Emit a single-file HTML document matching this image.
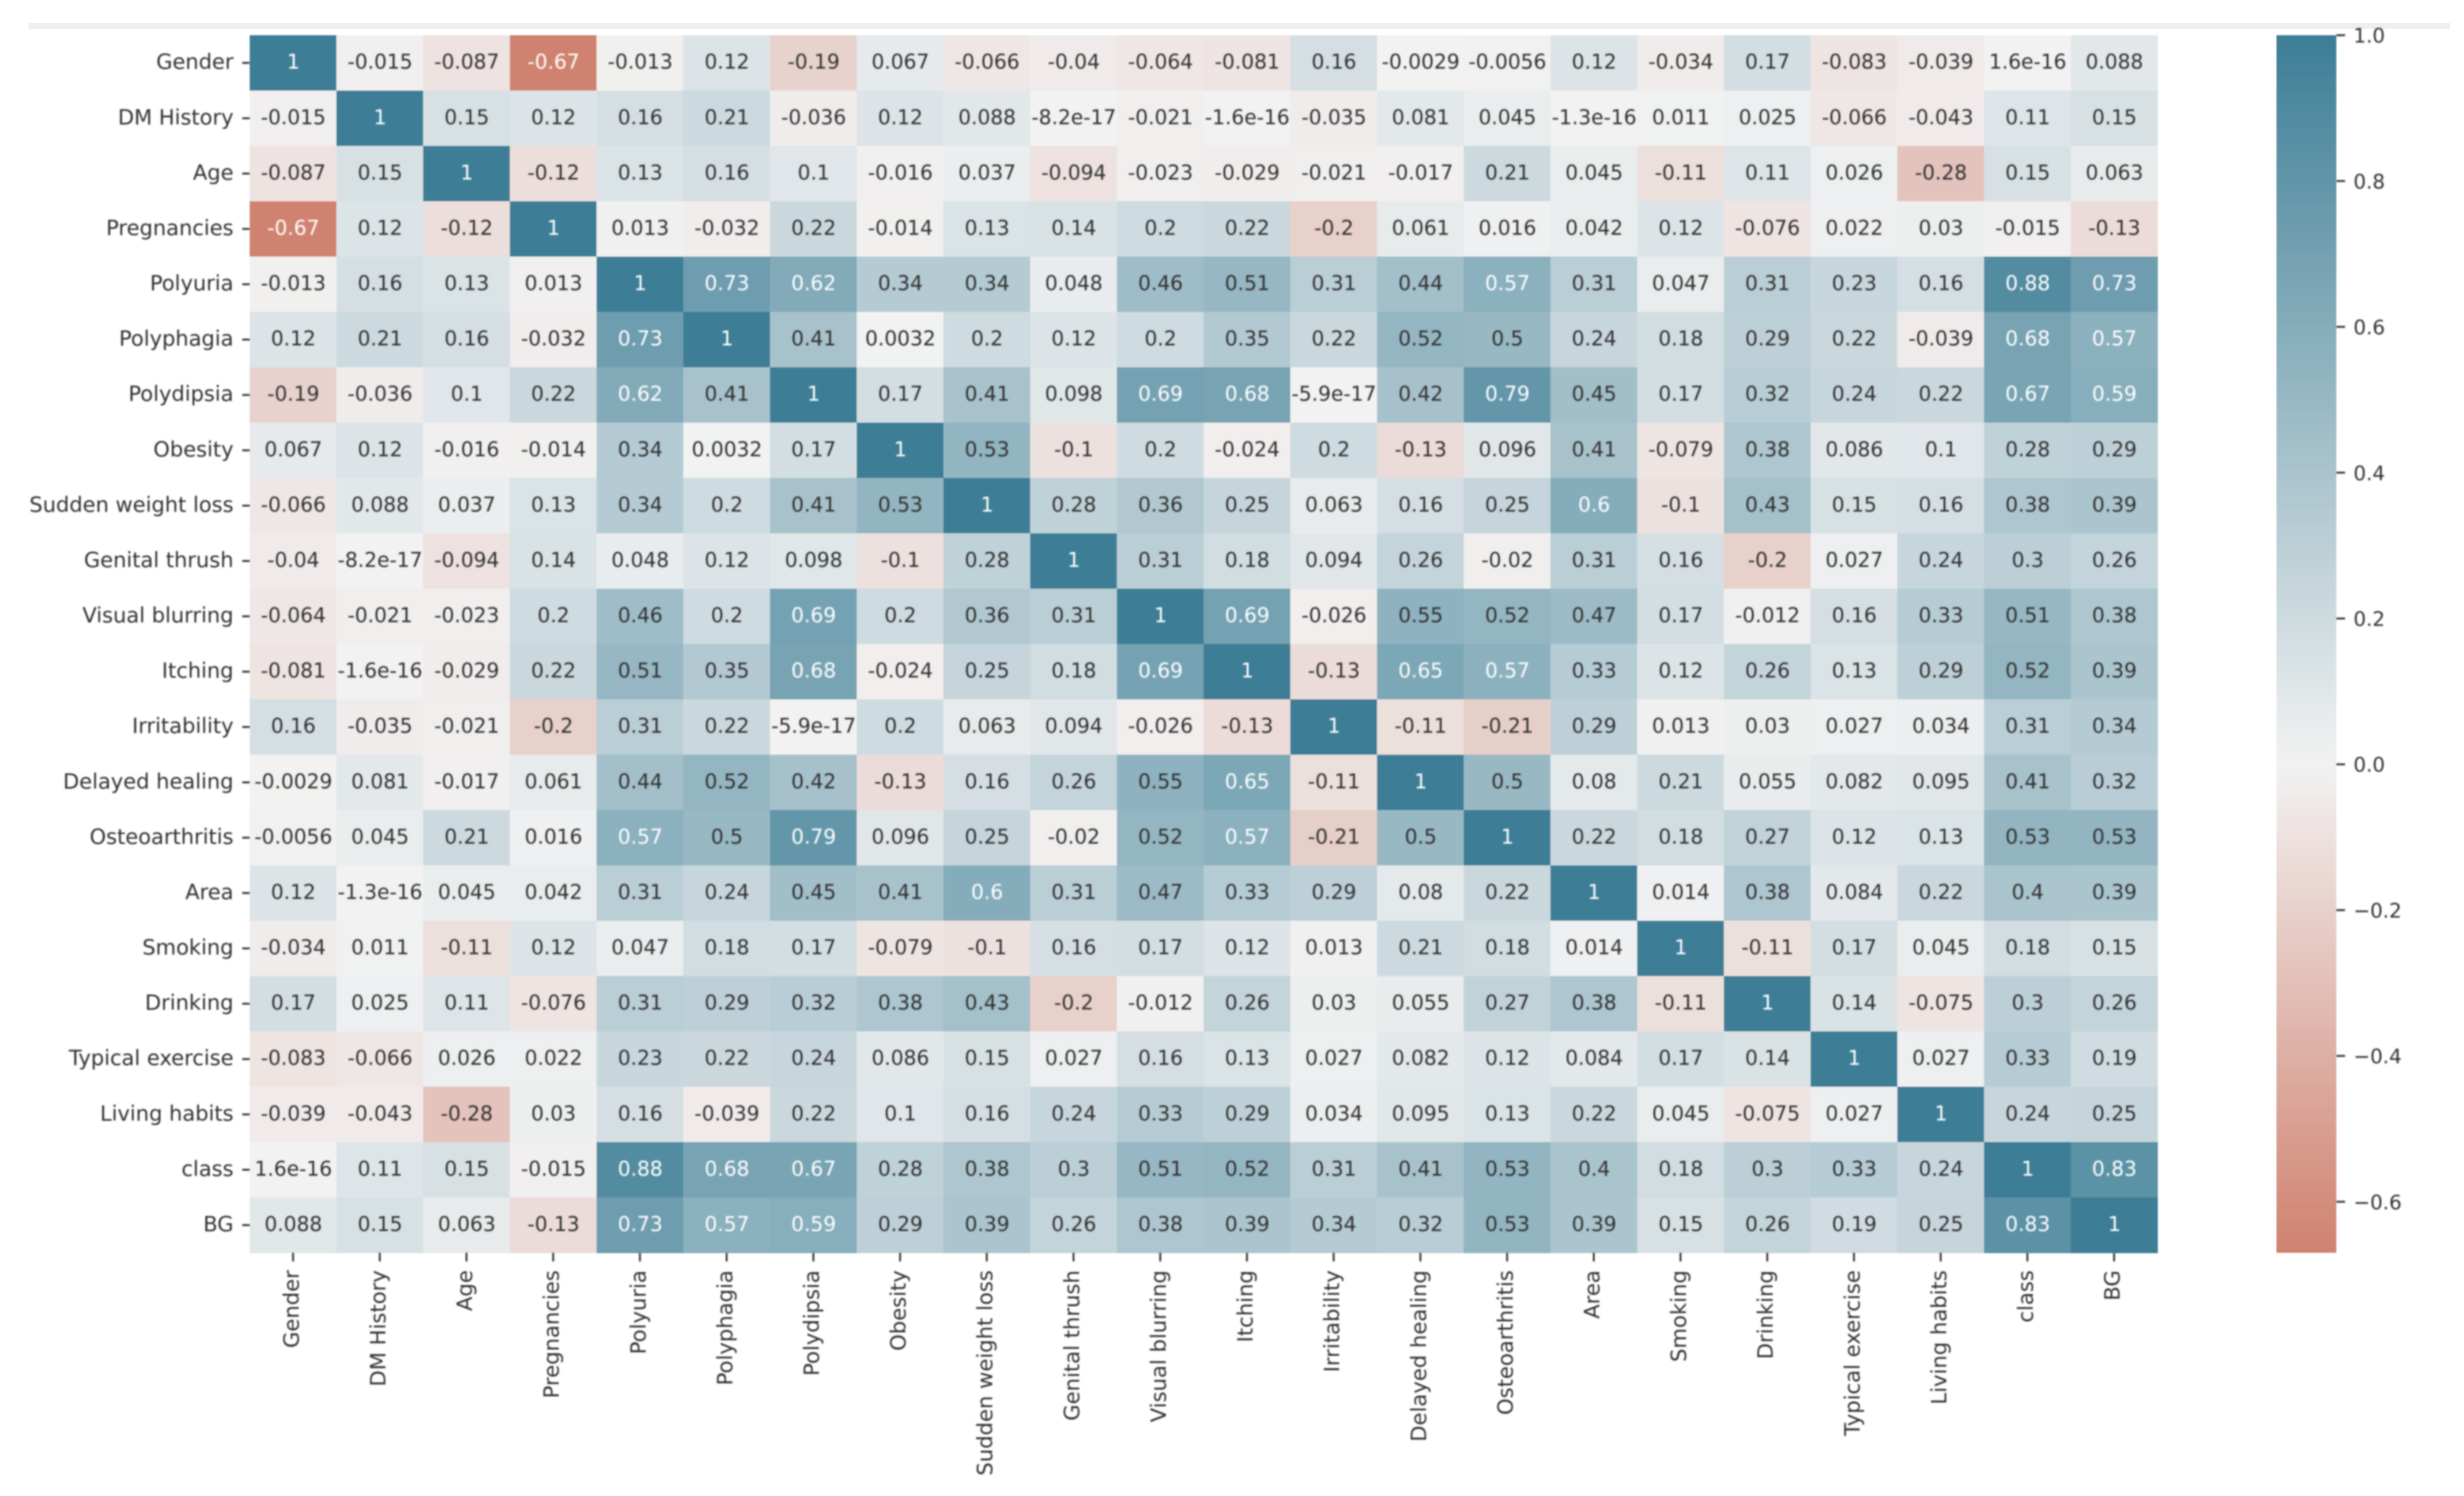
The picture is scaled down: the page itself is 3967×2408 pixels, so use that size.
<!DOCTYPE html>
<html>
<head>
<meta charset="utf-8">
<title>Correlation heatmap</title>
<style>
html,body{margin:0;padding:0;background:#fff;width:3967px;height:2408px;overflow:hidden}
svg{display:block}
text{font-family:"DejaVu Sans","Liberation Sans",sans-serif}
</style>
</head>
<body>
<svg id="chart" xmlns="http://www.w3.org/2000/svg" width="3967" height="2408" viewBox="0 0 3967 2408">
  <defs>
    <filter id="soft" x="-5%" y="-5%" width="110%" height="110%"><feGaussianBlur stdDeviation="1.4"/></filter>
    <filter id="softCell" x="-1%" y="-1%" width="102%" height="102%"><feGaussianBlur stdDeviation="1"/></filter>
    <linearGradient id="cbar-gradient" x1="0" y1="0" x2="0" y2="1"></linearGradient>
  </defs>
  <rect x="0" y="0" width="3967" height="2408" fill="#ffffff"/>
  <rect x="46" y="37" width="3898" height="10" fill="#eef0f0"/>
  <g id="cells" filter="url(#softCell)"></g>
  <g id="annots" filter="url(#soft)"></g>
  <g id="yaxis" filter="url(#soft)"></g>
  <g id="xaxis" filter="url(#soft)"></g>
  <g id="colorbar"></g>
</svg>
<script>
const categories = ["Gender","DM History","Age","Pregnancies","Polyuria","Polyphagia","Polydipsia","Obesity","Sudden weight loss","Genital thrush","Visual blurring","Itching","Irritability","Delayed healing","Osteoarthritis","Area","Smoking","Drinking","Typical exercise","Living habits","class","BG"];
const rowGender = [1,-0.015,-0.087,-0.67,-0.013,0.12,-0.19,0.067,-0.066,-0.04,-0.064,-0.081,0.16,-0.0029,-0.0056,0.12,-0.034,0.17,-0.083,-0.039,1.6e-16,0.088];
const rowDMHistory = [-0.015,1,0.15,0.12,0.16,0.21,-0.036,0.12,0.088,-8.2e-17,-0.021,-1.6e-16,-0.035,0.081,0.045,-1.3e-16,0.011,0.025,-0.066,-0.043,0.11,0.15];
const rowAge = [-0.087,0.15,1,-0.12,0.13,0.16,0.1,-0.016,0.037,-0.094,-0.023,-0.029,-0.021,-0.017,0.21,0.045,-0.11,0.11,0.026,-0.28,0.15,0.063];
const rowPregnancies = [-0.67,0.12,-0.12,1,0.013,-0.032,0.22,-0.014,0.13,0.14,0.2,0.22,-0.2,0.061,0.016,0.042,0.12,-0.076,0.022,0.03,-0.015,-0.13];
const rowPolyuria = [-0.013,0.16,0.13,0.013,1,0.73,0.62,0.34,0.34,0.048,0.46,0.51,0.31,0.44,0.57,0.31,0.047,0.31,0.23,0.16,0.88,0.73];
const rowPolyphagia = [0.12,0.21,0.16,-0.032,0.73,1,0.41,0.0032,0.2,0.12,0.2,0.35,0.22,0.52,0.5,0.24,0.18,0.29,0.22,-0.039,0.68,0.57];
const rowPolydipsia = [-0.19,-0.036,0.1,0.22,0.62,0.41,1,0.17,0.41,0.098,0.69,0.68,-5.9e-17,0.42,0.79,0.45,0.17,0.32,0.24,0.22,0.67,0.59];
const rowObesity = [0.067,0.12,-0.016,-0.014,0.34,0.0032,0.17,1,0.53,-0.1,0.2,-0.024,0.2,-0.13,0.096,0.41,-0.079,0.38,0.086,0.1,0.28,0.29];
const rowSuddenWeightLoss = [-0.066,0.088,0.037,0.13,0.34,0.2,0.41,0.53,1,0.28,0.36,0.25,0.063,0.16,0.25,0.6,-0.1,0.43,0.15,0.16,0.38,0.39];
const rowGenitalThrush = [-0.04,-8.2e-17,-0.094,0.14,0.048,0.12,0.098,-0.1,0.28,1,0.31,0.18,0.094,0.26,-0.02,0.31,0.16,-0.2,0.027,0.24,0.3,0.26];
const rowVisualBlurring = [-0.064,-0.021,-0.023,0.2,0.46,0.2,0.69,0.2,0.36,0.31,1,0.69,-0.026,0.55,0.52,0.47,0.17,-0.012,0.16,0.33,0.51,0.38];
const rowItching = [-0.081,-1.6e-16,-0.029,0.22,0.51,0.35,0.68,-0.024,0.25,0.18,0.69,1,-0.13,0.65,0.57,0.33,0.12,0.26,0.13,0.29,0.52,0.39];
const rowIrritability = [0.16,-0.035,-0.021,-0.2,0.31,0.22,-5.9e-17,0.2,0.063,0.094,-0.026,-0.13,1,-0.11,-0.21,0.29,0.013,0.03,0.027,0.034,0.31,0.34];
const rowDelayedHealing = [-0.0029,0.081,-0.017,0.061,0.44,0.52,0.42,-0.13,0.16,0.26,0.55,0.65,-0.11,1,0.5,0.08,0.21,0.055,0.082,0.095,0.41,0.32];
const rowOsteoarthritis = [-0.0056,0.045,0.21,0.016,0.57,0.5,0.79,0.096,0.25,-0.02,0.52,0.57,-0.21,0.5,1,0.22,0.18,0.27,0.12,0.13,0.53,0.53];
const rowArea = [0.12,-1.3e-16,0.045,0.042,0.31,0.24,0.45,0.41,0.6,0.31,0.47,0.33,0.29,0.08,0.22,1,0.014,0.38,0.084,0.22,0.4,0.39];
const rowSmoking = [-0.034,0.011,-0.11,0.12,0.047,0.18,0.17,-0.079,-0.1,0.16,0.17,0.12,0.013,0.21,0.18,0.014,1,-0.11,0.17,0.045,0.18,0.15];
const rowDrinking = [0.17,0.025,0.11,-0.076,0.31,0.29,0.32,0.38,0.43,-0.2,-0.012,0.26,0.03,0.055,0.27,0.38,-0.11,1,0.14,-0.075,0.3,0.26];
const rowTypicalExercise = [-0.083,-0.066,0.026,0.022,0.23,0.22,0.24,0.086,0.15,0.027,0.16,0.13,0.027,0.082,0.12,0.084,0.17,0.14,1,0.027,0.33,0.19];
const rowLivingHabits = [-0.039,-0.043,-0.28,0.03,0.16,-0.039,0.22,0.1,0.16,0.24,0.33,0.29,0.034,0.095,0.13,0.22,0.045,-0.075,0.027,1,0.24,0.25];
const rowClass = [1.6e-16,0.11,0.15,-0.015,0.88,0.68,0.67,0.28,0.38,0.3,0.51,0.52,0.31,0.41,0.53,0.4,0.18,0.3,0.33,0.24,1,0.83];
const rowBG = [0.088,0.15,0.063,-0.13,0.73,0.57,0.59,0.29,0.39,0.26,0.38,0.39,0.34,0.32,0.53,0.39,0.15,0.26,0.19,0.25,0.83,1];
const matrix = [rowGender,rowDMHistory,rowAge,rowPregnancies,rowPolyuria,rowPolyphagia,rowPolydipsia,rowObesity,rowSuddenWeightLoss,rowGenitalThrush,rowVisualBlurring,rowItching,rowIrritability,rowDelayedHealing,rowOsteoarthritis,rowArea,rowSmoking,rowDrinking,rowTypicalExercise,rowLivingHabits,rowClass,rowBG];
const colorbarTicks = [1.0,0.8,0.6,0.4,0.2,0.0,-0.2,-0.4,-0.6];
const colorMin = -0.67;
const colorMax = 1;

const SVGNS = "http://www.w3.org/2000/svg";
const plotLeft = 402, plotRight = 3473.5, plotTop = 56.7, plotBottom = 2016.5;
const cbarLeft = 3665, cbarRight = 3761.5;
const cellW = (plotRight - plotLeft) / categories.length;
const cellH = (plotBottom - plotTop) / categories.length;
const xCell = i => plotLeft + i * cellW;
const yCell = i => plotTop + i * cellH;
const yColor = v => plotTop + (colorMax - v) / (colorMax - colorMin) * (plotBottom - plotTop);

const midColor = [242,242,242], highColor = [61,126,150], lowColor = [208,130,112];
function colorFor(v){
  let t, end;
  if (v >= 0) { t = Math.min(v / colorMax, 1); end = highColor; }
  else { t = Math.min(v / colorMin, 1); end = lowColor; }
  const c = midColor.map((m, k) => Math.round(m + (end[k] - m) * t));
  return "rgb(" + c.join(",") + ")";
}
function fmt(v){ return String(Number(v.toPrecision(2))); }
function textColor(v){ return (v >= 0.56 || v <= -0.5) ? "#ffffff" : "#303030"; }
function mk(tag, attrs, parent, content){
  const el = document.createElementNS(SVGNS, tag);
  for (const k in attrs) el.setAttribute(k, attrs[k]);
  if (content !== undefined) el.textContent = content;
  parent.appendChild(el);
  return el;
}
const gCells = document.getElementById("cells");
const gAnnots = document.getElementById("annots");
const gY = document.getElementById("yaxis");
const gX = document.getElementById("xaxis");
const gBar = document.getElementById("colorbar");

matrix.forEach((row, r) => {
  row.forEach((v, c) => {
    const rect = mk("rect", {x: xCell(c), y: yCell(r), width: cellW + 0.6, height: cellH + 0.6, fill: colorFor(v)}, gCells);
    
    
    const t = mk("text", {x: xCell(c) + cellW / 2 + 0.5, y: yCell(r) + cellH / 2 + 9.5, "text-anchor": "middle", "font-size": 32.5, fill: textColor(v)}, gAnnots, fmt(v));
    
    
  });
});

categories.forEach((name, i) => {
  const yc = yCell(i) + cellH / 2;
  const yt = mk("line", {x1: 390, x2: plotLeft, y1: yc, y2: yc, stroke: "#303030", "stroke-width": 3}, gY);
  
  
  const yl = mk("text", {x: 376, y: yc + 10, "text-anchor": "end", "font-size": 33.8, fill: "#303030"}, gY, name);
  
  

  const xc = xCell(i) + cellW / 2;
  const xt = mk("line", {x1: xc, x2: xc, y1: plotBottom, y2: plotBottom + 14, stroke: "#303030", "stroke-width": 3}, gX);
  
  
  const xl = mk("text", {transform: "translate(" + (xc + 9) + "," + (plotBottom + 28) + ") rotate(-90)", "text-anchor": "end", "font-size": 34, fill: "#303030"}, gX, name);
  
  
});

const grad = document.getElementById("cbar-gradient");
[colorMax, 0, colorMin].forEach(v => {
  mk("stop", {offset: (colorMax - v) / (colorMax - colorMin), "stop-color": colorFor(v)}, grad);
});
const bar = mk("rect", {x: cbarLeft, y: plotTop, width: cbarRight - cbarLeft, height: plotBottom - plotTop, fill: "url(#cbar-gradient)", filter: "url(#softCell)"}, gBar);


const gBarTicks = mk("g", {filter: "url(#soft)"}, gBar);


colorbarTicks.forEach(v => {
  const y = yColor(v);
  const tk = mk("line", {x1: cbarRight, x2: cbarRight + 14, y1: y, y2: y, stroke: "#303030", "stroke-width": 3}, gBarTicks);
  
  
  const label = (v < 0 ? "\u2212" : "") + Math.abs(v).toFixed(1);
  const tl = mk("text", {x: 3789, y: y + 12, "font-size": 32, fill: "#303030"}, gBarTicks, label);
  
  
});
</script>
</body>
</html>
